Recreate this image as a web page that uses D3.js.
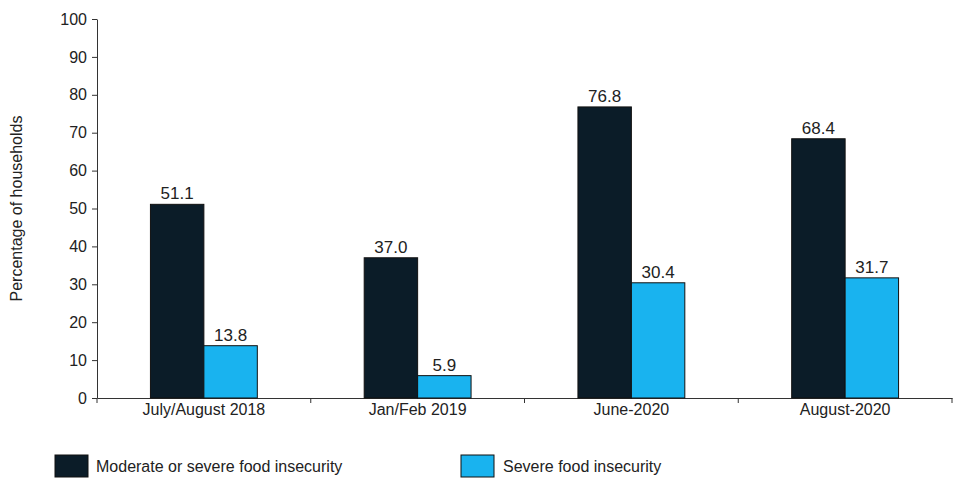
<!DOCTYPE html>
<html><head><meta charset="utf-8">
<script src="https://cdn.jsdelivr.net/npm/d3@7"></script>
<style>body{margin:0;background:#fff}text{font-family:"Liberation Sans",Arial,sans-serif;fill:#222}</style>
</head><body><svg id="c" width="960" height="483"></svg>
<script>
const categories=["July/August 2018","Jan/Feb 2019","June-2020","August-2020"];
const moderate=[51.1,37.0,76.8,68.4];
const severe=[13.8,5.9,30.4,31.7];
const seriesNames=["Moderate or severe food insecurity","Severe food insecurity"];
const colors=["#0b1c28","#19b3ef"];
const yTicks=d3.range(0,101,10);

const svg=d3.select("#c");
const m={l:97,r:8,t:19,b:85};
const W=960,H=483;
const x=d3.scaleBand().domain(categories).range([m.l,W-m.r]).paddingInner(0.5).paddingOuter(0.25);
const y=d3.scaleLinear().domain([0,100]).range([H-m.b,m.t]);
const sub=d3.scaleBand().domain([0,1]).range([0,x.bandwidth()]);

const ya=svg.append("g").attr("transform",`translate(${m.l},0)`).call(d3.axisLeft(y).tickValues(yTicks).tickSize(5).tickSizeOuter(0));
ya.selectAll("text").style("font-size","16px").attr("dx","-2");
ya.selectAll("path,line").attr("stroke","#333");
const xa=svg.append("g").attr("transform",`translate(0,${y(0)})`).call(d3.axisBottom(x).tickSize(0).tickSizeOuter(0));
xa.selectAll("text").style("font-size","16px").attr("dy","0.9em");
xa.select("path").attr("stroke","#333");
// ticks between categories
const step=x.step();
xa.selectAll(".sep").data(d3.range(categories.length+1)).enter().append("line")
 .attr("x1",i=>m.l+i*(W-m.r-m.l)/categories.length).attr("x2",i=>m.l+i*(W-m.r-m.l)/categories.length)
 .attr("y1",0).attr("y2",5).attr("stroke","#333");

svg.append("text").attr("transform",`translate(22,${(m.t+H-m.b)/2}) rotate(-90)`).attr("text-anchor","middle").style("font-size","16px").text("Percentage of households");

[moderate,severe].forEach((vals,s)=>{
 const g=svg.append("g");
 g.selectAll("rect").data(vals).enter().append("rect")
  .attr("x",(d,i)=>x(categories[i])+sub(s)).attr("width",sub.bandwidth())
  .attr("y",d=>y(d)).attr("height",d=>y(0)-y(d))
  .attr("fill",colors[s]).attr("stroke","#111").attr("stroke-width",1);
 g.selectAll("text").data(vals).enter().append("text")
  .attr("x",(d,i)=>x(categories[i])+sub(s)+sub.bandwidth()/2).attr("y",d=>y(d)-5)
  .attr("text-anchor","middle").style("font-size","17px").text(d=>d.toFixed(1));
});

const lg=[[55,96],[461,503]];
seriesNames.forEach((n,i)=>{
 svg.append("rect").attr("x",lg[i][0]).attr("y",455).attr("width",33).attr("height",22).attr("fill",colors[i]).attr("stroke","#111");
 svg.append("text").attr("x",lg[i][1]).attr("y",472).style("font-size","16px").text(n);
});
</script></body></html>
